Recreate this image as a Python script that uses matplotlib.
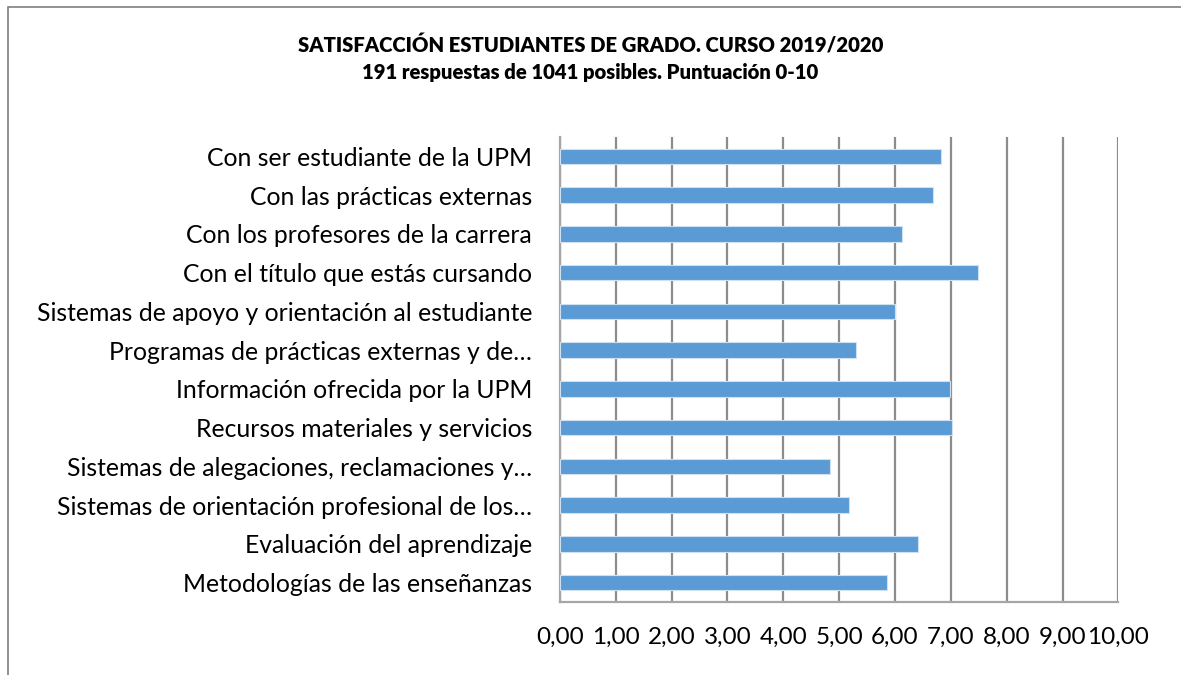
import matplotlib

matplotlib.use("Agg")
import matplotlib.pyplot as plt
from matplotlib.patches import Rectangle

# categories, top to bottom as in the chart
CATEGORIES = [
    "Con ser estudiante de la UPM",
    "Con las prácticas externas",
    "Con los profesores de la carrera",
    "Con el título que estás cursando",
    "Sistemas de apoyo y orientación al estudiante",
    "Programas de prácticas externas y de…",
    "Información ofrecida por la UPM",
    "Recursos materiales y servicios",
    "Sistemas de alegaciones, reclamaciones y…",
    "Sistemas de orientación profesional de los…",
    "Evaluación del aprendizaje",
    "Metodologías de las enseñanzas",
]
SCORES = [6.83, 6.68, 6.12, 7.48, 6.00, 5.31, 6.98, 7.03, 4.84, 5.18, 6.41, 5.85]
XTICKS = [0, 1, 2, 3, 4, 5, 6, 7, 8, 9, 10]

BLUE = "#5B9BD5"
GRID = "#8c8c8c"

plt.rcParams["font.family"] = ["Lato", "DejaVu Sans"]

fig = plt.figure(figsize=(11.81, 6.75), dpi=100)
ax = fig.add_axes([0.474, 0.108, 0.473, 0.689])

# Excel-style chart border
fig.patches.append(Rectangle((0.007, -0.1), 1.2, 1.09, transform=fig.transFigure,
                             fill=False, edgecolor="#7f7f7f", linewidth=1.2))

n = len(CATEGORIES)
ypos = list(range(n - 1, -1, -1))
ax.barh(ypos, SCORES, height=0.4, color=BLUE, edgecolor="#cfe0f1",
        linewidth=0.8, zorder=3)

ax.set_xlim(0, 10)
ax.set_ylim(-0.5, n - 0.5)
ax.set_xticks(XTICKS)
ax.set_xticklabels([f"{t:.2f}".replace(".", ",") for t in XTICKS], fontsize=17.5)
ax.set_yticks(ypos)
ax.set_yticklabels(CATEGORIES, fontsize=17.8)
ax.tick_params(axis="x", length=0, pad=18)
ax.tick_params(axis="y", length=0, pad=20)

ax.grid(axis="x", color=GRID, linewidth=1.6, zorder=0)
for s in ("top", "right"):
    ax.spines[s].set_visible(False)
for s in ("left", "bottom"):
    ax.spines[s].set_color("#a6a6a6")
    ax.spines[s].set_linewidth(1.6)

fig.text(0.5, 0.933, "SATISFACCIÓN ESTUDIANTES DE GRADO. CURSO 2019/2020",
         ha="center", va="center", fontsize=14.6, fontweight="heavy")
fig.text(0.5, 0.892, "191 respuestas de 1041 posibles. Puntuación 0-10",
         ha="center", va="center", fontsize=14.6, fontweight="heavy")

fig.savefig("out.png", dpi=100, facecolor="white")
